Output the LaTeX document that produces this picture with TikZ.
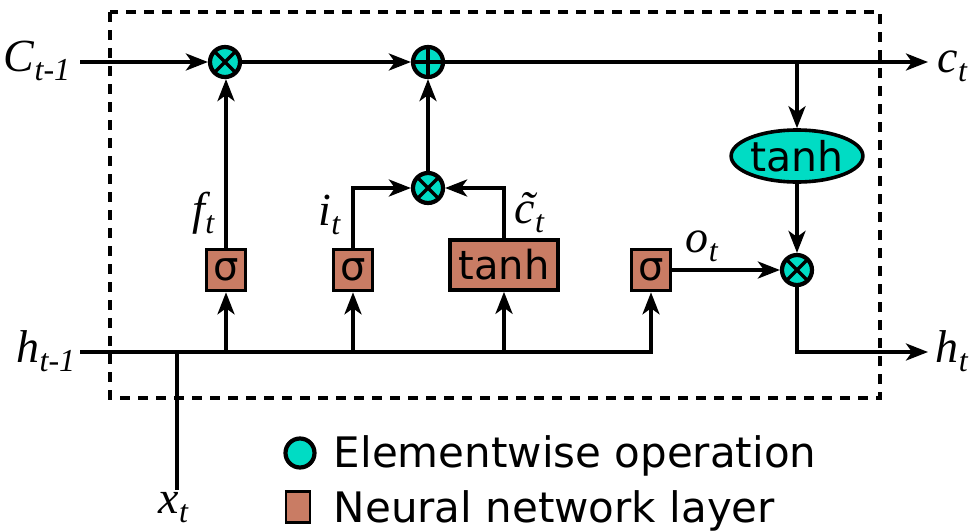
\documentclass[tikz,border=0pt]{standalone}
\usepackage{fontspec}
\setmainfont{DejaVu Sans}
\newfontfamily\lblfont{Liberation Serif}
\usetikzlibrary{arrows.meta,shapes.geometric}

\definecolor{opfill}{HTML}{00DCC4}
\definecolor{layerfill}{HTML}{C97C64}

% italic variable with a lowered subscript
\newcommand\lab[2]{{\lblfont\itshape\fontsize{46}{52}\selectfont #1\raisebox{-9pt}{\fontsize{32}{36}\selectfont #2}}}

\begin{document}
\begin{tikzpicture}[x=1pt,y=-1pt,line width=3.6pt,
  arr/.style={-{Stealth[length=22pt,width=17pt,inset=6pt]}},
  op/.style={circle,draw,line width=4.2pt,fill=opfill,minimum size=30pt,inner sep=0pt},
  times/.style={op,path picture={
    \draw[line width=3.4pt] (path picture bounding box.north west) -- (path picture bounding box.south east)
      (path picture bounding box.north east) -- (path picture bounding box.south west);}},
  plus/.style={op,path picture={
    \draw[line width=3.4pt] (path picture bounding box.north) -- (path picture bounding box.south)
      (path picture bounding box.east) -- (path picture bounding box.west);}},
  layer/.style={rectangle,draw,line width=3.6pt,fill=layerfill,inner sep=0pt,
    minimum width=39pt,minimum height=41pt,font=\fontsize{40}{48}\selectfont},
  optext/.style={ellipse,draw,line width=3.6pt,fill=opfill,inner sep=0pt,
    minimum width=126pt,minimum height=52pt,text height=30pt,text depth=0pt,font=\fontsize{41}{48}\selectfont},
  lbl/.style={inner sep=0pt},
  legend/.style={inner sep=0pt,anchor=base west,font=\fontsize{42}{50}\selectfont}]

\useasboundingbox (0,0) rectangle (975,531);

% cell boundary
\draw[line width=4.5pt,dash pattern=on 10pt off 8pt] (110,12) rectangle (880,398);

% pointwise operations
\node[times] (mulf) at (225,62) {};
\node[plus]  (add)  at (428,62) {};
\node[times] (muli) at (428,188) {};
\node[times] (mulo) at (797,270) {};
\node[optext] (tanhc) at (797,156) {tanh};

% gate layers
\node[layer] (sf) at (226,270) {σ};
\node[layer] (si) at (353,270) {σ};
\node[layer,minimum width=108pt,minimum height=50pt] (tb) at (504,265) {tanh};
\node[layer] (so) at (651,270) {σ};

% free ends
\coordinate (cin)   at (80,62);
\coordinate (cout)  at (928,62);
\coordinate (hin)   at (80,352);
\coordinate (hout)  at (928,352);
\coordinate (xin)   at (177,490);
\coordinate (split) at (797,62);

% cell state path
\draw[arr] (cin) -- (mulf);
\draw[arr] (mulf) -- (add);
\draw[arr] (add) -- (cout);
\draw[arr] (split) -- (tanhc);
\draw[arr] (tanhc) -- (mulo);

% gates
\draw[arr] (sf.north) -- (sf.north |- mulf.south);
\draw[arr] (si.north) |- (muli.west);
\draw[arr] (tb.north) |- (muli.east);
\draw[arr] (muli) -- (add);
\draw[arr] (so) -- (mulo);
\draw[arr] (mulo.south) |- (hout);

% hidden state and input
\draw[arr] (hin) -| (so.south);
\draw (xin) -- (xin |- hin);
\draw[arr] (sf.south |- hin) -- (sf.south);
\draw[arr] (si.south |- hin) -- (si.south);
\draw[arr] (tb.south |- hin) -- (tb.south);

% variable labels
\node[lbl,anchor=base east] (lcin)  at (72,71)   {\lab{C}{t-1}};
\node[lbl,anchor=base west] (lcout) at (936,72)  {\lab{c}{t}};
\node[lbl,anchor=base east] (lhin)  at (77,362)  {\lab{h}{t-1}};
\node[lbl,anchor=base west] (lhout) at (934,362) {\lab{h}{t}};
\node[lbl,anchor=base west] (lx)    at (157,513) {\lab{x}{t}};
\node[lbl,anchor=base east] (lf)    at (216,224) {\lab{f}{t}};
\node[lbl,anchor=base east] (li)    at (342,225) {\lab{i}{t}};
\node[lbl,anchor=base west] (lc)    at (513,223) {\lab{\~{c}}{t}};
\node[lbl,anchor=base west] (lo)    at (684,252) {\lab{o}{t}};

% legend
\node[op,minimum size=29pt] (lgop) at (300,453) {};
\node[layer,line width=2.8pt,minimum width=24pt,minimum height=31pt] (lglayer) at (298,507) {};
\node[legend] (lgoptext) at (332,467) {Elementwise operation};
\node[legend] (lglayertext) at (332,522) {Neural network layer};
\end{tikzpicture}
\end{document}
